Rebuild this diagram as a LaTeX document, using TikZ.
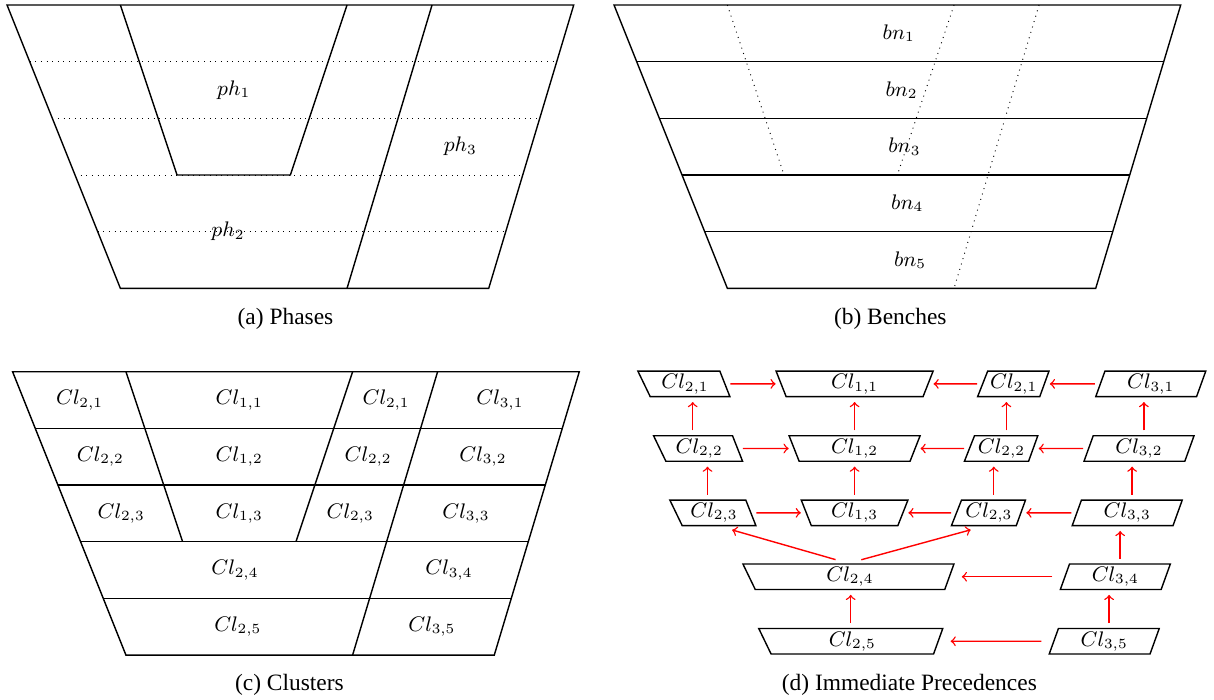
\documentclass[tikz,border=0pt]{standalone}
\usepackage[no-math]{fontspec}
\setmainfont{Liberation Serif}
\usetikzlibrary{shapes.geometric}

\tikzset{
  lbl/.style={font=\small},
  cl/.style={draw, shape=trapezium, trapezium stretches body,
    inner sep=0pt, minimum height=0.3825cm, font=\small},
  cla/.style={cl, trapezium left angle=122, trapezium right angle=63},
  clb/.style={cl, trapezium left angle=117, trapezium right angle=117},
  clc/.style={cl, trapezium left angle=63, trapezium right angle=115},
  cld/.style={cl, trapezium left angle=65, trapezium right angle=115},
  cle/.style={cl, trapezium left angle=122, trapezium right angle=115},
  prec/.style={->, red, shorten <=2pt, shorten >=2pt}
}

\begin{document}
\begin{tikzpicture}[x=0.85cm, y=0.85cm, semithick]
\useasboundingbox (0,0) rectangle (21.422,-12.352);

% (a) phases
\begin{scope}[shift={(0.124,-0.088)}]
  \foreach \d in {1,...,4}
    \draw[thin, dotted] (0.4*\d,-\d) -- (10-0.3*\d,-\d);
  \draw (0,0) -- (10,0) -- (8.5,-5) -- (2,-5) -- cycle;
  \draw (2,0) -- (3,-3) -- (5,-3) -- (6,0);
  \draw (7.5,0) -- (6,-5);
  \node[lbl] (ph1) at (4,-1.5) {$ph_1$};
  \node[lbl] (ph2) at (3.9,-4) {$ph_2$};
  \node[lbl] (ph3) at (8,-2.5) {$ph_3$};
\end{scope}
\node (capa) at (5.038,-5.629) {(a) Phases};

% (b) benches
\begin{scope}[shift={(10.835,-0.088)}]
  \draw (0,0) -- (10,0) -- (8.5,-5) -- (2,-5) -- cycle;
  \foreach \d in {1,...,4}
    \draw (0.4*\d,-\d) -- (10-0.3*\d,-\d);
  \draw[thin, dotted] (2,0) -- (3,-3) (6,0) -- (5,-3) (7.5,0) -- (6,-5);
  \foreach \k in {1,...,5}
    \node[lbl] (bn\k) at ({5+0.05*(\k-0.5)},{0.5-\k}) {$bn_{\k}$};
\end{scope}
\node (capb) at (15.71,-5.629) {(b) Benches};

% (c) clusters
\begin{scope}[shift={(0.222,-6.559)}]
  \draw (0,0) -- (10,0) -- (8.5,-5) -- (2,-5) -- cycle;
  \foreach \d in {1,...,4}
    \draw (0.4*\d,-\d) -- (10-0.3*\d,-\d);
  \draw (2,0) -- (3,-3) (6,0) -- (5,-3) (7.5,0) -- (6,-5);
  \node[lbl] (c21a) at (1.183,-0.5) {$Cl_{2,1}$};
  \node[lbl] (c11)  at (4,-0.5)     {$Cl_{1,1}$};
  \node[lbl] (c21b) at (6.592,-0.5) {$Cl_{2,1}$};
  \node[lbl] (c31)  at (8.6,-0.5)   {$Cl_{3,1}$};
  \node[lbl] (c22a) at (1.55,-1.5)  {$Cl_{2,2}$};
  \node[lbl] (c12)  at (4,-1.5)     {$Cl_{1,2}$};
  \node[lbl] (c22b) at (6.275,-1.5) {$Cl_{2,2}$};
  \node[lbl] (c32)  at (8.3,-1.5)   {$Cl_{3,2}$};
  \node[lbl] (c23a) at (1.917,-2.5) {$Cl_{2,3}$};
  \node[lbl] (c13)  at (4,-2.5)     {$Cl_{1,3}$};
  \node[lbl] (c23b) at (5.958,-2.5) {$Cl_{2,3}$};
  \node[lbl] (c33)  at (8,-2.5)     {$Cl_{3,3}$};
  \node[lbl] (c24)  at (3.925,-3.5) {$Cl_{2,4}$};
  \node[lbl] (c34)  at (7.7,-3.5)   {$Cl_{3,4}$};
  \node[lbl] (c25)  at (3.975,-4.5) {$Cl_{2,5}$};
  \node[lbl] (c35)  at (7.4,-4.5)   {$Cl_{3,5}$};
\end{scope}
\node (capc) at (5.107,-12.088) {(c) Clusters};

% (d) immediate precedences
\node[cla, minimum width=1.38cm]  (Cl21a) at (12.088,-6.774) {$Cl_{2,1}$};
\node[clb, minimum width=2.355cm] (Cl11)  at (15.08,-6.774)  {$Cl_{1,1}$};
\node[clc, minimum width=1.07cm]  (Cl21b) at (17.888,-6.774) {$Cl_{2,1}$};
\node[cld, minimum width=1.65cm]  (Cl31)  at (20.306,-6.774) {$Cl_{3,1}$};
\node[cla, minimum width=1.335cm] (Cl22a) at (12.338,-7.914) {$Cl_{2,2}$};
\node[clb, minimum width=1.965cm] (Cl12)  at (15.08,-7.914)  {$Cl_{1,2}$};
\node[clc, minimum width=1.1cm]   (Cl22b) at (17.673,-7.914) {$Cl_{2,2}$};
\node[cld, minimum width=1.65cm]  (Cl32)  at (20.099,-7.914) {$Cl_{3,2}$};
\node[cla, minimum width=1.29cm]  (Cl23a) at (12.599,-9.049) {$Cl_{2,3}$};
\node[clb, minimum width=1.6cm]   (Cl13)  at (15.08,-9.049)  {$Cl_{1,3}$};
\node[clc, minimum width=1.11cm]  (Cl23b) at (17.45,-9.049)  {$Cl_{2,3}$};
\node[cld, minimum width=1.65cm]  (Cl33)  at (19.891,-9.049) {$Cl_{3,3}$};
\node[cle, minimum width=3.165cm] (Cl24)  at (14.999,-10.177) {$Cl_{2,4}$};
\node[cld, minimum width=1.65cm]  (Cl34)  at (19.681,-10.177) {$Cl_{3,4}$};
\node[cle, minimum width=2.76cm]  (Cl25)  at (15.04,-11.315)  {$Cl_{2,5}$};
\node[cld, minimum width=1.65cm]  (Cl35)  at (19.485,-11.315) {$Cl_{3,5}$};

\foreach \src/\dst in {Cl21a/Cl11, Cl21b/Cl11, Cl31/Cl21b,
    Cl22a/Cl12, Cl22b/Cl12, Cl32/Cl22b,
    Cl23a/Cl13, Cl23b/Cl13, Cl33/Cl23b}
  \draw[prec] (\src) -- (\dst);
\foreach \src/\dst in {Cl22a/Cl21a, Cl23a/Cl22a, Cl12/Cl11, Cl13/Cl12,
    Cl22b/Cl21b, Cl23b/Cl22b, Cl32/Cl31, Cl33/Cl32,
    Cl34/Cl33, Cl35/Cl34, Cl25/Cl24}
  \draw[prec] (\src.top side) -- (\src.top side |- \dst.bottom side);
\draw[prec, shorten <=5pt, shorten >=5pt] (Cl34) -- (Cl24);
\draw[prec, shorten <=5pt, shorten >=5pt] (Cl35) -- (Cl25);
\draw[prec, shorten <=5.7pt, shorten >=5.7pt] (Cl24.top side) -- (Cl23a.bottom side);
\draw[prec, shorten <=5.7pt, shorten >=5.7pt] (Cl24.top side) -- (Cl23b.bottom side);
\node (capd) at (16.046,-12.088) {(d) Immediate Precedences};
\end{tikzpicture}
\end{document}
